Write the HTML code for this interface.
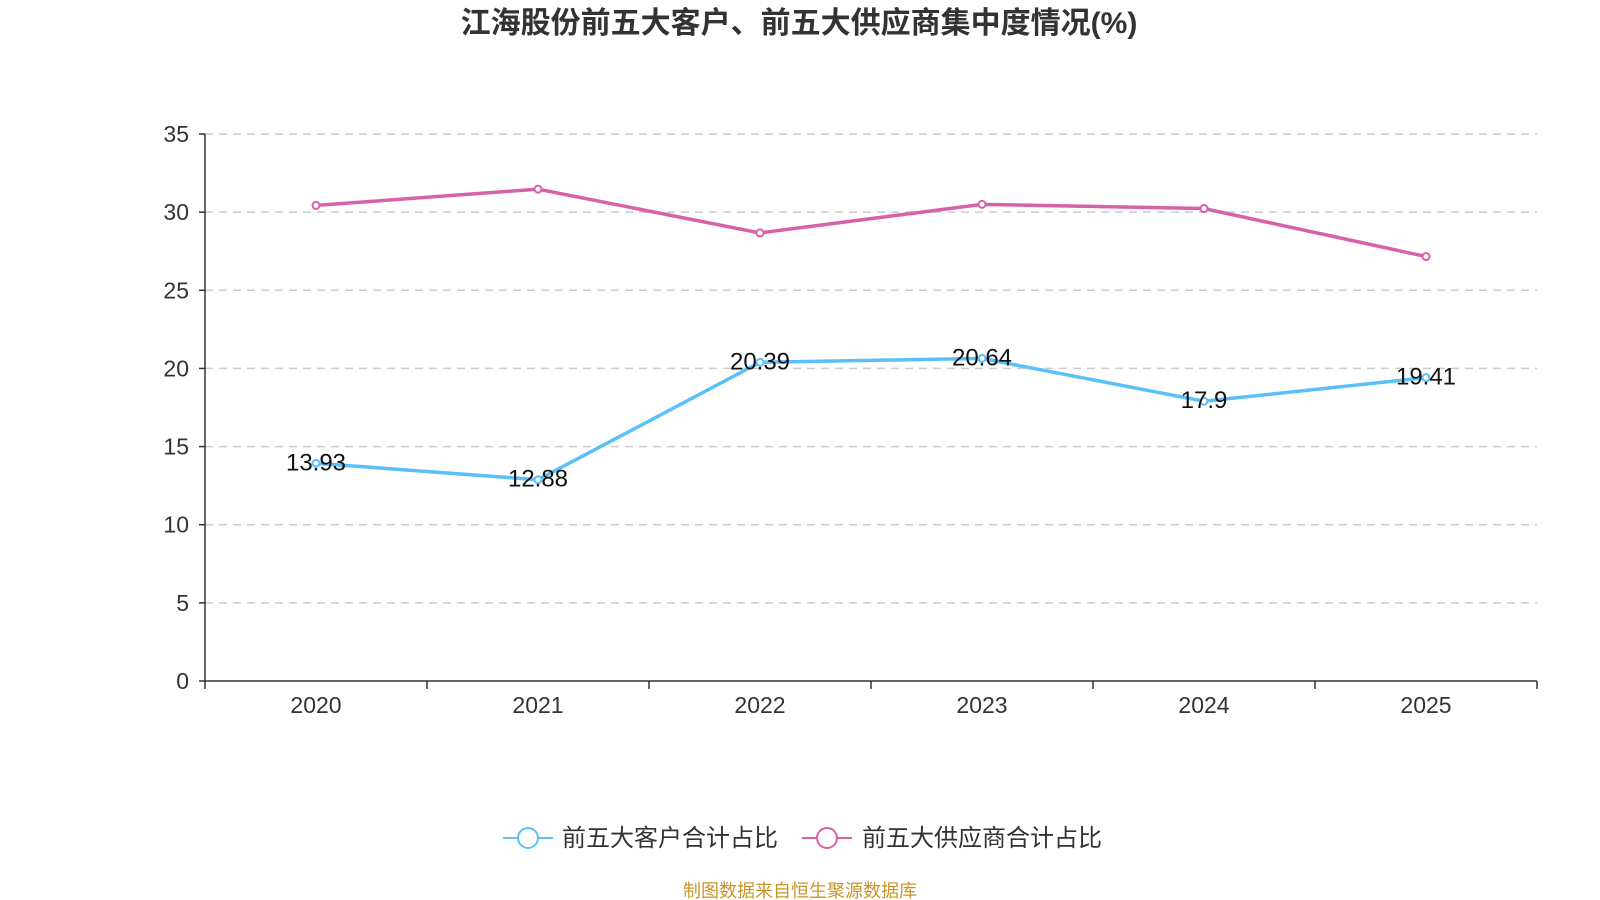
<!DOCTYPE html>
<html><head><meta charset="utf-8"><style>
body{margin:0;background:#fff;}
svg{display:block;font-family:"Liberation Sans","Noto Sans CJK SC",sans-serif;}
</style></head><body>
<svg id="c" width="1600" height="900">
<text x="799" y="33" text-anchor="middle" font-size="30" font-weight="bold" fill="#333">江海股份前五大客户、前五大供应商集中度情况(%)</text>
<g id="grid"></g><g id="axes"></g><g id="series"></g>
<g>
<line x1="503" y1="838" x2="553" y2="838" stroke="#5bc0f8" stroke-width="2"/>
<circle cx="528" cy="838" r="10" fill="#fff" stroke="#5bc0f8" stroke-width="2"/>
<text x="562" y="846" font-size="24" fill="#333">前五大客户合计占比</text>
<line x1="802" y1="838" x2="852" y2="838" stroke="#d862a8" stroke-width="2"/>
<circle cx="827" cy="838" r="10" fill="#fff" stroke="#d862a8" stroke-width="2"/>
<text x="862" y="846" font-size="24" fill="#333">前五大供应商合计占比</text>
</g>
<text x="800" y="897" text-anchor="middle" font-size="18" fill="#c8952a">制图数据来自恒生聚源数据库</text>
</svg>
<script>
const categories=["2020","2021","2022","2023","2024","2025"];
const customers=[13.93,12.88,20.39,20.64,17.9,19.41];
const suppliers=[30.43,31.47,28.67,30.5,30.23,27.16];
const yTicks=[0,5,10,15,20,25,30,35];
const L=205,R=1537,T=134,B=681,YMAX=35;
const ns="http://www.w3.org/2000/svg";
const y=v=>B-(v/YMAX)*(B-T);
const bw=(R-L)/categories.length;
const x=i=>L+bw*(i+0.5);
function mk(tag,attrs,parent,text){const e=document.createElementNS(ns,tag);for(const k in attrs)e.setAttribute(k,attrs[k]);if(text!==undefined)e.textContent=text;document.getElementById(parent).appendChild(e);return e;}
yTicks.forEach(t=>{
 if(t>0){const g=mk('line',{x1:L,x2:R,y1:y(t),y2:y(t),stroke:'#ccc','stroke-width':1.5,'stroke-dasharray':'8,6'},'grid');
 
 }
 mk('line',{x1:L-6,x2:L,y1:y(t),y2:y(t),stroke:'#333','stroke-width':1.5},'axes');
 const lb=mk('text',{x:L-16,y:y(t)+8,'text-anchor':'end','font-size':23,fill:'#333'},'axes',t);
 
 
});
mk('line',{x1:L,x2:L,y1:T,y2:B,stroke:'#333','stroke-width':1.5},'axes');
mk('line',{x1:L,x2:R,y1:B,y2:B,stroke:'#333','stroke-width':1.5},'axes');
for(let i=0;i<=categories.length;i++)mk('line',{x1:L+bw*i,x2:L+bw*i,y1:B,y2:B+8,stroke:'#333','stroke-width':1.5},'axes');
categories.forEach((c,i)=>{const t=mk('text',{x:x(i),y:B+32,'text-anchor':'middle','font-size':23,fill:'#333'},'axes',c);
 
 });
function series(vals,color,name,labels){
 const p=mk('polyline',{points:vals.map((v,i)=>x(i)+','+y(v)).join(' '),fill:'none',stroke:color,'stroke-width':3.5},'series');
 
 
 vals.forEach((v,i)=>{const c=mk('circle',{cx:x(i),cy:y(v),r:3.5,fill:'#fff',stroke:color,'stroke-width':2},'series');
  
  
  if(labels){const t=mk('text',{x:x(i),y:y(v)+7,'text-anchor':'middle','font-size':24,fill:'#111'},'series',v);
  
  }});
}
series(suppliers,'#d862a8','suppliers',false);
series(customers,'#5bc0f8','customers',true);
</script>
</body></html>
